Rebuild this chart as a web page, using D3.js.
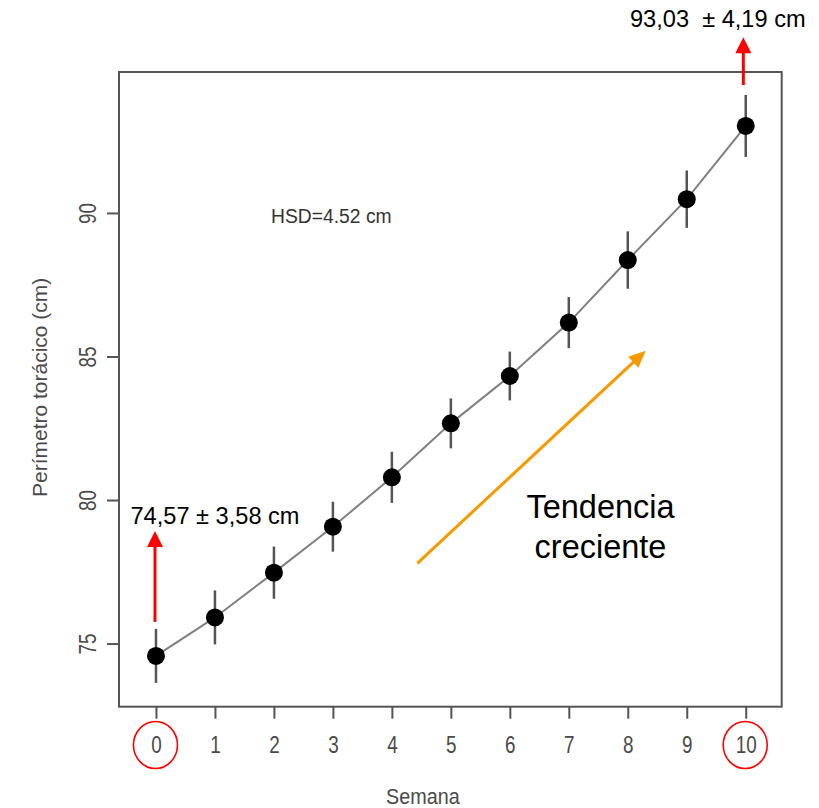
<!DOCTYPE html>
<html>
<head>
<meta charset="utf-8">
<script src="https://cdn.jsdelivr.net/npm/d3@7"></script>
<style>
  html, body { margin: 0; padding: 0; background: #fff; }
  svg { display: block; font-family: "Liberation Sans", Arial, sans-serif; }
</style>
</head>
<body>
<svg id="chart" width="819" height="808"></svg>
<script>
// Weekly chest girth (mean and error) over 10 weeks
const weeks = [0, 1, 2, 3, 4, 5, 6, 7, 8, 9, 10];
const girth = [74.57, 75.91, 77.47, 79.07, 80.79, 82.67, 84.32, 86.18, 88.36, 90.48, 93.03];
const errs  = [0.94, 0.94, 0.91, 0.87, 0.89, 0.87, 0.85, 0.89, 1.00, 1.00, 1.08];
const yTicks = [75, 80, 85, 90];

const hsdLabel = "HSD=4.52 cm";
const startLabel = "74,57 ± 3,58 cm";
const endLabel = "93,03  ± 4,19 cm";
const trendLines = ["Tendencia", "creciente"];
const xTitle = "Semana";
const yTitle = "Perímetro torácico (cm)";

const svg = d3.select("#chart");
const box = { left: 119, right: 781.7, top: 72, bottom: 706.7 };

const x = d3.scaleLinear().domain([-0.627, 10.61]).range([box.left, box.right]);
const y = d3.scaleLinear().domain([72.80, 94.91]).range([box.bottom, box.top]);

const grey = "#4a4a4a";

// plot frame
svg.append("rect")
  .attr("x", box.left).attr("y", box.top)
  .attr("width", box.right - box.left).attr("height", box.bottom - box.top)
  .attr("fill", "none").attr("stroke", "#555").attr("stroke-width", 2);

// x axis (narrow, tall digits)
const xAxis = svg.append("g")
  .attr("transform", `translate(0,${box.bottom})`)
  .call(d3.axisBottom(x).tickValues(weeks).tickSize(12).tickPadding(13).tickFormat(d3.format("d")));
xAxis.select(".domain").remove();
xAxis.selectAll(".tick line").attr("stroke", "#555").attr("stroke-width", 2);
xAxis.selectAll(".tick text")
  .attr("y", null).attr("dy", null)
  .attr("transform", "translate(0,46) scale(0.82,1)")
  .attr("fill", grey).attr("font-size", 23)
  .attr("font-family", "Liberation Sans, Arial, sans-serif");

// y axis with labels parallel to the axis
const yAxis = svg.append("g")
  .attr("transform", `translate(${box.left},0)`)
  .call(d3.axisLeft(y).tickValues(yTicks).tickSize(12));
yAxis.select(".domain").remove();
yAxis.selectAll(".tick line").attr("stroke", "#555").attr("stroke-width", 2);
yAxis.selectAll(".tick text")
  .attr("x", null).attr("dy", null)
  .attr("transform", "translate(-31,0) rotate(-90) scale(0.82,1)")
  .attr("text-anchor", "middle").attr("dy", "0.35em")
  .attr("fill", grey).attr("font-size", 23)
  .attr("font-family", "Liberation Sans, Arial, sans-serif");

// axis titles
svg.append("text")
  .attr("transform", `translate(${(x(0) + x(10)) / 2 - 28},804) scale(0.92,1)`)
  .attr("text-anchor", "middle").attr("font-size", 21.5).attr("fill", grey)
  .text(xTitle);
svg.append("text")
  .attr("transform", `translate(47,${(box.top + box.bottom) / 2 - 2}) rotate(-90)`)
  .attr("text-anchor", "middle").attr("font-size", 21).attr("fill", grey)
  .text(yTitle);

// connecting line
const line = d3.line().x((d, i) => x(weeks[i])).y(d => y(d));
svg.append("path").datum(girth)
  .attr("d", line).attr("fill", "none")
  .attr("stroke", "#808080").attr("stroke-width", 2);

// error bars
svg.append("g").selectAll("line").data(girth).join("line")
  .attr("x1", (d, i) => x(weeks[i])).attr("x2", (d, i) => x(weeks[i]))
  .attr("y1", (d, i) => y(d - errs[i])).attr("y2", (d, i) => y(d + errs[i]))
  .attr("stroke", "#555").attr("stroke-width", 2.5);

// mean points
svg.append("g").selectAll("circle").data(girth).join("circle")
  .attr("cx", (d, i) => x(weeks[i])).attr("cy", d => y(d))
  .attr("r", 9).attr("fill", "#000");

// HSD note
svg.append("text")
  .attr("transform", "translate(271,223) scale(0.92,1)")
  .attr("font-size", 21).attr("fill", "#333")
  .text(hsdLabel);

// arrow helper: shaft plus filled triangular head
function arrow(x1, y1, x2, y2, color, headLen, headW) {
  const ang = Math.atan2(y2 - y1, x2 - x1);
  const bx = x2 - headLen * Math.cos(ang), by = y2 - headLen * Math.sin(ang);
  svg.append("line")
    .attr("x1", x1).attr("y1", y1).attr("x2", bx + Math.cos(ang)).attr("y2", by + Math.sin(ang))
    .attr("stroke", color).attr("stroke-width", 3);
  const px = -Math.sin(ang) * headW / 2, py = Math.cos(ang) * headW / 2;
  svg.append("path")
    .attr("d", `M${x2},${y2}L${bx + px},${by + py}L${bx - px},${by - py}Z`)
    .attr("fill", color);
}

// start / end annotations
arrow(x(0) - 1, y(girth[0] - errs[0]) - 61, x(0) - 1, 531, "#ff0000", 16, 16);
svg.append("text").attr("x", 130.5).attr("y", 524).attr("font-size", 23.6).attr("fill", "#000")
  .style("white-space", "pre").text(startLabel);

arrow(x(10) - 2.4, 85, x(10) - 2.4, 37.3, "#ff0000", 16, 16);
svg.append("text").attr("x", 630).attr("y", 27).attr("font-size", 23.6).attr("fill", "#000")
  .attr("xml:space", "preserve").style("white-space", "pre").text(endLabel);

// circled first and last weeks
[0, 10].forEach(w => {
  svg.append("ellipse")
    .attr("cx", x(w) - 0.5).attr("cy", 745).attr("rx", 22).attr("ry", 23.5)
    .attr("fill", "none").attr("stroke", "#ff0000").attr("stroke-width", 1.6);
});

// increasing trend arrow and caption
arrow(417.3, 563.3, 645.7, 350.7, "#f59a00", 17, 15);
trendLines.forEach((t, i) => {
  svg.append("text")
    .attr("x", 600.5).attr("y", 518 + i * 39.5)
    .attr("text-anchor", "middle").attr("font-size", 32.5).attr("fill", "#000")
    .text(t);
});
</script>
</body>
</html>
